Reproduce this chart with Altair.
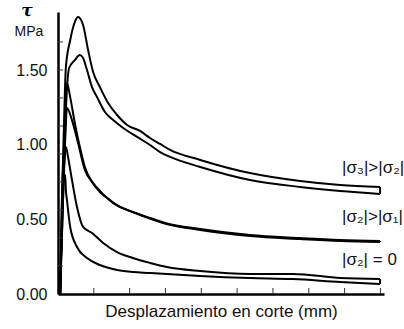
import altair as alt
import pandas as pd

# Curves (shear stress tau in MPa vs shear displacement, arbitrary x units)
A_x = [0.06, 0.11, 0.17, 0.22, 0.34, 0.47, 0.56, 0.70, 0.84, 0.98, 1.17, 1.40, 1.65, 1.93, 2.29, 2.57, 2.85, 3.13, 3.97, 5.36, 6.76, 7.88, 8.99]
A_y = [0, 0.63, 1.165, 1.52, 1.70, 1.822, 1.855, 1.802, 1.634, 1.487, 1.386, 1.279, 1.199, 1.132, 1.092, 1.045, 1.005, 0.965, 0.898, 0.810, 0.757, 0.730, 0.717]
B_x = [0.06, 0.14, 0.22, 0.31, 0.47, 0.61, 0.70, 0.81, 0.95, 1.09, 1.31, 1.54, 1.82, 2.21, 2.57, 2.85, 3.13, 3.97, 5.36, 6.76, 7.88, 8.99]
B_y = [0, 0.63, 1.232, 1.514, 1.567, 1.601, 1.581, 1.50, 1.386, 1.319, 1.219, 1.165, 1.112, 1.052, 0.998, 0.951, 0.918, 0.851, 0.764, 0.717, 0.690, 0.670]

C_x = [0.06, 0.14, 0.20, 0.25, 0.34, 0.47, 0.61, 0.75, 0.95, 1.17, 1.45, 1.73, 2.09, 2.57, 2.99, 3.97, 5.36, 6.76, 7.88, 8.99]
C_y = [0, 0.764, 1.232, 1.413, 1.319, 1.145, 0.985, 0.851, 0.750, 0.683, 0.630, 0.583, 0.549, 0.509, 0.476, 0.435, 0.395, 0.375, 0.362, 0.355]
D_x = [0.06, 0.14, 0.20, 0.25, 0.39, 0.56, 0.75, 0.98, 1.23, 1.54, 1.93, 2.37, 2.93, 3.97, 5.36, 6.76, 7.88, 8.99]
D_y = [0, 0.630, 1.031, 1.246, 1.165, 1.011, 0.831, 0.743, 0.676, 0.609, 0.563, 0.522, 0.476, 0.429, 0.388, 0.368, 0.355, 0.348]

E_x = [0.06, 0.11, 0.17, 0.22, 0.28, 0.39, 0.53, 0.70, 0.95, 1.26, 1.65, 2.09, 2.57, 3.04, 3.97, 5.36, 6.56, 7.88, 8.99]
E_y = [0, 0.496, 0.864, 0.985, 0.918, 0.764, 0.583, 0.449, 0.409, 0.342, 0.281, 0.241, 0.208, 0.181, 0.154, 0.134, 0.134, 0.107, 0.100]
F_x = [0.06, 0.11, 0.14, 0.17, 0.20, 0.22, 0.25, 0.34, 0.53, 0.81, 1.17, 1.65, 2.09, 2.57, 3.04, 3.97, 5.36, 6.56, 7.88, 8.99]
F_y = [0, 0.630, 0.864, 0.764, 0.797, 0.697, 0.630, 0.449, 0.315, 0.241, 0.194, 0.161, 0.147, 0.141, 0.134, 0.121, 0.107, 0.100, 0.080, 0.067]

label_text = ["|σ₃|>|σ₂|", "|σ₂|>|σ₁|", "|σ₂| = 0"]
label_x = [7.93, 7.93, 7.93]
label_y = [0.844, 0.516, 0.228]

ytick_labels = [0, 0.5, 1.0, 1.5]
ytick_minor = [0.1876, 0.3752, 0.5628, 0.7504, 0.938, 1.1256, 1.3132, 1.5008, 1.6884]
xtick_minor = [1, 2, 3, 4, 5, 6, 7, 8, 9]

series = {"A": (A_x, A_y), "B": (B_x, B_y), "C": (C_x, C_y),
          "D": (D_x, D_y), "E": (E_x, E_y), "F": (F_x, F_y)}
rows = []
for name, (xv, yv) in series.items():
    for i, (x, y) in enumerate(zip(xv, yv)):
        rows.append({"curve": name, "ord": i, "x": x, "y": y})
curves = pd.DataFrame(rows)

# end closures of each pair (from the curves' last points)
ends = pd.DataFrame({
    "x": [A_x[-1], C_x[-1], E_x[-1]],
    "y": [A_y[-1], C_y[-1], E_y[-1]],
    "y2": [B_y[-1], D_y[-1], F_y[-1]],
})

xs = alt.Scale(domain=[0, 9.1], nice=False, zero=False)
ys = alt.Scale(domain=[0, 1.889], nice=False, zero=False)

x_enc = alt.X("x:Q", scale=xs, axis=alt.Axis(labels=False, ticks=False, grid=False,
              domainColor="black", domainWidth=2.5,
              title="Desplazamiento en corte (mm)", titleFontSize=17,
              titleFontWeight="normal", titleColor="#111", titlePadding=9,
              titleFont="Liberation Sans"))
y_enc = alt.Y("y:Q", scale=ys, axis=alt.Axis(values=ytick_labels, format=".2f", ticks=False,
              grid=False, domainColor="black", domainWidth=2.5, labelFontSize=16,
              labelColor="#111", labelPadding=11, labelFont="Liberation Sans", title=""))

lines = alt.Chart(curves).mark_line(color="black", strokeWidth=2, interpolate="monotone").encode(
    x=x_enc, y=y_enc, detail="curve:N", order="ord:Q")

closures = alt.Chart(ends).mark_rule(color="black", strokeWidth=2).encode(
    x=x_enc, y=y_enc, y2="y2:Q")

yt = alt.Chart(pd.DataFrame({"y": ytick_minor})).mark_rule(color="#333", strokeWidth=1).encode(
    y=y_enc, x=alt.value(0), x2=alt.value(5))
xt = alt.Chart(pd.DataFrame({"x": xtick_minor})).mark_rule(color="#333", strokeWidth=1).encode(
    x=x_enc, y=alt.value(282), y2=alt.value(276))

labels = alt.Chart(pd.DataFrame({"x": label_x, "y": label_y, "t": label_text})).mark_text(
    align="left", baseline="middle", fontSize=17, font="Liberation Sans", color="#111").encode(
    x=x_enc, y=y_enc, text="t:N")

tau = alt.Chart(pd.DataFrame({"t": ["τ"]})).mark_text(
    fontSize=17, fontWeight="bold", fontStyle="italic", font="DejaVu Serif", color="black",
    align="center", baseline="middle").encode(x=alt.value(-31), y=alt.value(-1), text="t:N")
mpa = alt.Chart(pd.DataFrame({"t": ["MPa"]})).mark_text(
    fontSize=14, font="Liberation Sans", color="#111",
    align="center", baseline="middle").encode(x=alt.value(-29), y=alt.value(20), text="t:N")

chart = alt.layer(lines, closures, yt, xt, labels, tau, mpa).properties(
    width=326, height=282,
    padding={"left": 58, "top": 12, "right": 20, "bottom": 35},
    autosize=alt.AutoSizeParams(type="none"),
    background="white",
).configure_view(stroke=None)

chart.save("out.html", embed_options={"renderer": "svg", "actions": False})
